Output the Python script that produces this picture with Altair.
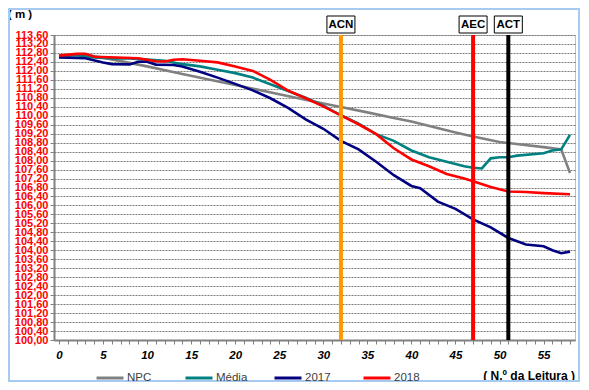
import altair as alt
import pandas as pd

FONT = "Liberation Sans"

series_names = ["NPC", "Média", "2017", "2018"]
series_colors = ["#808080", "#008080", "#000080", "#FF0000"]

npc_x = [0, 3, 5, 10, 14, 20, 25, 30, 32, 35, 38, 40, 45, 47, 50, 55, 57, 58]
npc_y = [112.70, 112.72, 112.59, 112.2, 111.86, 111.37, 110.96, 110.55, 110.39, 110.15, 109.9, 109.74,
         109.25, 109.07, 108.83, 108.6, 108.5, 107.45]

media_x = [0, 2, 4, 6, 8, 10, 12, 14, 16, 18, 20, 22, 24, 26, 28, 30, 32, 34, 36, 38, 40, 42, 44, 46,
           47, 48, 49, 50, 51, 52, 55, 56, 57, 58]
media_y = [112.65, 112.7, 112.6, 112.55, 112.55, 112.5, 112.45, 112.3, 112.2, 112.05, 111.9, 111.7,
           111.4, 111.1, 110.8, 110.45, 110.02, 109.65, 109.18, 108.88, 108.45, 108.15, 107.95, 107.75,
           107.68, 107.65, 108.1, 108.15, 108.15, 108.22, 108.33, 108.45, 108.5, 109.15]

y2017_x = [0, 3, 5, 6, 8, 9, 10, 11, 13, 14, 16, 18, 20, 22, 24, 26, 28, 30, 32, 34, 36, 38, 40, 41,
           43, 45, 47, 49, 51, 53, 55, 56, 57, 58]
y2017_y = [112.6, 112.56, 112.37, 112.3, 112.29, 112.41, 112.41, 112.28, 112.26, 112.2, 111.96, 111.7,
           111.42, 111.13, 110.78, 110.35, 109.84, 109.42, 108.88, 108.5, 107.95, 107.35, 106.87, 106.77,
           106.17, 105.85, 105.38, 105.02, 104.55, 104.26, 104.18, 104.0, 103.87, 103.94]

y2018_x = [0, 2, 3, 4, 9, 11, 12, 13, 14, 16, 18, 20, 22, 23, 24, 26, 28, 30, 32, 34, 36, 38, 40, 42,
           44, 46, 47, 49, 51, 53, 55, 58]
y2018_y = [112.68, 112.76, 112.76, 112.63, 112.56, 112.43, 112.42, 112.5, 112.52, 112.45, 112.38, 112.2,
           112.0, 111.8, 111.6, 111.12, 110.78, 110.42, 110.02, 109.62, 109.18, 108.55, 108.05, 107.75,
           107.4, 107.2, 107.08, 106.82, 106.62, 106.6, 106.55, 106.5]

markers = ["ACN", "AEC", "ACT"]
marker_x = [32, 47, 51]
marker_colors = ["#FF9900", "#FF0000", "#000000"]

y_ticks = [round(100 + 0.4 * i, 2) for i in range(35)]
x_ticks = list(range(0, 59))

rows = []
for name, xs, ys in [("NPC", npc_x, npc_y), ("Média", media_x, media_y),
                     ("2017", y2017_x, y2017_y), ("2018", y2018_x, y2018_y)]:
    for i, (a, b) in enumerate(zip(xs, ys)):
        rows.append({"serie": name, "x": a, "y": b, "ord": i})
df = pd.DataFrame(rows)
mk = pd.DataFrame({"name": markers, "x": marker_x, "color": marker_colors})

W, H = 521, 305
xscale = alt.Scale(domain=[0, 58], nice=False, zero=False)
yscale = alt.Scale(domain=[100, 113.6], nice=False, zero=False)

xaxis = alt.Axis(
    values=x_ticks, labelExpr="datum.value % 5 == 0 ? datum.label : ''",
    labelFont=FONT, labelFontSize=11.5, labelFontStyle="italic", labelFontWeight="bold",
    labelColor="black", tickSize=4, tickColor="#808080", domainColor="#808080", domainWidth=2,
    grid=False, title=None, labelPadding=5, labelOverlap=False, labelFlush=False)

X = alt.X("x:Q", scale=xscale, axis=xaxis)

lines = alt.Chart(df).mark_line(strokeWidth=2.6).encode(
    x=X,
    y=alt.Y("y:Q", scale=yscale, axis=alt.Axis(
        values=y_ticks, labelExpr="replace(format(datum.value, '.2f'), '.', ',')",
        labelFont=FONT, labelFontSize=11, labelFontWeight="bold", labelColor="#FF0000",
        tickSize=4, tickColor="#808080", domainColor="#808080", domainWidth=2,
        grid=True, gridColor="#7a7a7a", gridDash=[2, 1], gridWidth=1, title=None,
        labelPadding=2, labelOverlap=False, labelFlush=False, labelBaseline="middle")),
    color=alt.Color("serie:N", scale=alt.Scale(domain=series_names, range=series_colors),
                    sort=series_names,
                    legend=alt.Legend(orient="none", legendX=41, legendY=328, direction="horizontal",
                                      columns=4, gridAlign="all", title=None, symbolType="stroke",
                                      symbolSize=729, symbolStrokeWidth=3, labelOffset=2,
                                      columnPadding=20, labelFont=FONT, labelFontSize=11.5,
                                      labelColor="#404040")),
    order="ord:Q",
)

rules = alt.Chart(mk).mark_rule(strokeWidth=4).encode(
    x=X,
    color=alt.Color("color:N", scale=None),
)

boxes = alt.Chart(mk).mark_bar(width=28, fill="white", stroke="black", strokeWidth=1, clip=False).encode(
    x=X,
    y=alt.value(-19), y2=alt.value(-2),
)
box_text = alt.Chart(mk).mark_text(font=FONT, fontSize=11.5, fontWeight="bold", color="black",
                                   baseline="middle", clip=False).encode(
    x=X,
    y=alt.value(-10),
    text="name:N",
)

ytitle = alt.Chart(pd.DataFrame({"t": ["( m )"]})).mark_text(
    font=FONT, fontSize=11.5, fontWeight="bold", color="black", align="center", baseline="middle"
).encode(x=alt.value(-34), y=alt.value(-20), text="t:N")

xtitle = alt.Chart(pd.DataFrame({"t": ["( N.º da Leitura )"]})).mark_text(
    font=FONT, fontSize=12, fontWeight="bold", color="black", align="right", baseline="middle"
).encode(x=alt.value(521), y=alt.value(341), text="t:N")

frame = alt.Chart(pd.DataFrame({"a": [0]})).mark_rect(
    fill=None, stroke="#A6CAF0", strokeWidth=2, clip=False
).encode(x=alt.value(-45), x2=alt.value(525), y=alt.value(-26), y2=alt.value(346))

chart = alt.layer(lines, rules, boxes, box_text, ytitle, xtitle, frame).properties(
    width=W, height=H,
    autosize=alt.AutoSizeParams(type="none"),
    padding={"left": 46, "top": 27, "right": 6, "bottom": 42},
    background="white",
).configure_view(stroke="#c0c0c0", strokeWidth=1)

chart.save("out.html", embed_options={"renderer": "svg", "actions": False})
